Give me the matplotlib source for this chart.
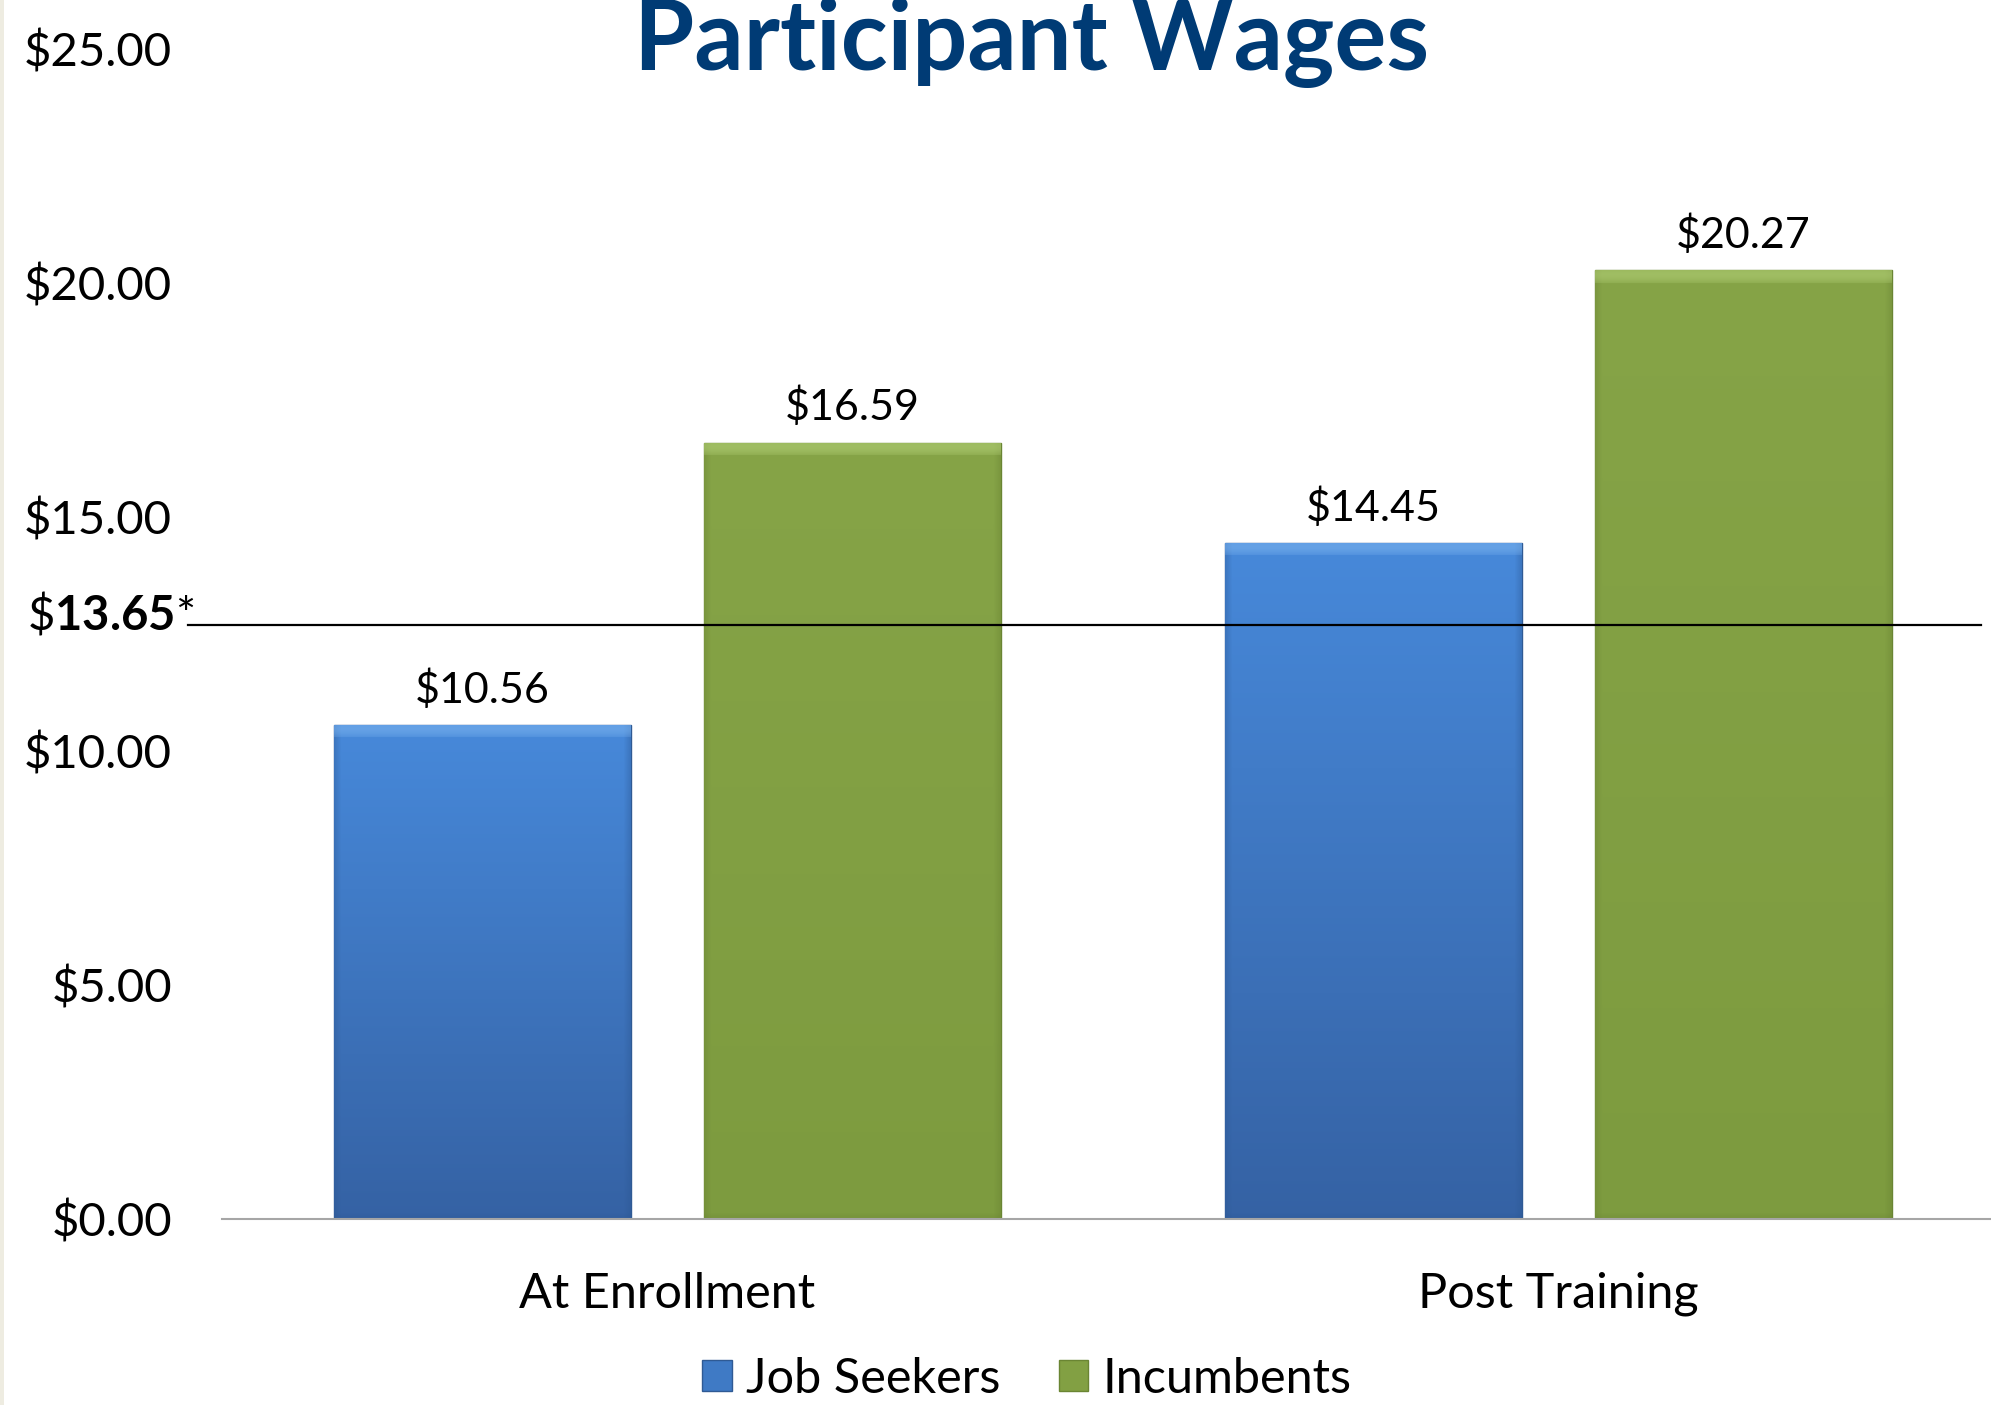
import numpy as np
import matplotlib
matplotlib.use("Agg")
import matplotlib.pyplot as plt
from matplotlib.colors import to_rgb
from matplotlib.patches import Rectangle, Patch

# ---------------- data ----------------
categories = ["At Enrollment", "Post Training"]
series_names = ["Job Seekers", "Incumbents"]
job_seekers = [10.56, 14.45]
incumbents = [16.59, 20.27]
yticks = [0, 5, 10, 15, 20, 25]
ytick_labels = ["$0.00", "$5.00", "$10.00", "$15.00", "$20.00", "$25.00"]
ref_line_value = 12.7          # position where the reference line is drawn
ref_line_label_num = "13.65"   # its label
title = "Participant Wages"

# ---------------- style ----------------
FONT = "Lato"
plt.rcParams["font.family"] = [FONT, "DejaVu Sans"]
plt.rcParams["mathtext.fontset"] = "custom"
plt.rcParams["mathtext.rm"] = FONT
plt.rcParams["mathtext.bf"] = FONT + ":bold"

W, H = 1991, 1405
fig = plt.figure(figsize=(W / 100, H / 100), dpi=100)
fig.patch.set_facecolor("white")
fig.patches.append(Rectangle((0, 0), 4 / W, 1, transform=fig.transFigure,
                             facecolor="#EEECE1", edgecolor="none"))

cat_px = 891.0
ax_left, ax_right = 222 / W, (222 + 2 * cat_px) / W
ax_bottom, ax_top = (H - 1219) / H, (H - 49) / H
ax = fig.add_axes([ax_left, ax_bottom, ax_right - ax_left, ax_top - ax_bottom])

x = np.arange(len(categories))
bw = 0.333
off = 0.2077

blue_top, blue_bot = to_rgb("#4789DA"), to_rgb("#3562A4")
green_top, green_bot = to_rgb("#86A447"), to_rgb("#7D9B3F")

b1 = ax.bar(x - off, job_seekers, bw, color="#3F7AC5", edgecolor="#2F5A94",
            linewidth=1.0, zorder=2)
b2 = ax.bar(x + off, incumbents, bw, color="#82A043", edgecolor="#6A8533",
            linewidth=1.0, zorder=2)

px_y = (1219 - 49) / 25.0
px_x = cat_px


def shade(bars, ctop, cbot, bevel_light, edge_dark):
    ctop, cbot = np.array(ctop), np.array(cbot)
    bl, ed = np.array(to_rgb(bevel_light)), np.array(to_rgb(edge_dark))
    for r in bars:
        x0, w, h = r.get_x(), r.get_width(), r.get_height()
        nr, nc = max(int(h * px_y), 2), max(int(w * px_x), 2)
        t = np.linspace(1, 0, nr)[:, None, None]
        img = cbot + (ctop - cbot) * t
        img = np.repeat(img, nc, axis=1)
        cols = np.arange(nc)
        side = np.clip(1 - np.minimum(cols, nc - 1 - cols) / 7.0, 0, 1)[None, :, None]
        img = img * (1 - 0.35 * side) + ed * 0.35 * side
        rows = np.arange(nr)
        bot = np.clip(1 - (nr - 1 - rows) / 6.0, 0, 1)[:, None, None]
        img = img * (1 - 0.3 * bot) + ed * 0.3 * bot
        # top bevel highlight (smooth)
        topb = np.clip(1 - rows / 13.0, 0, 1)[:, None, None]
        topb = np.where(rows[:, None, None] < 13, 0.35 + 0.65 * np.sin(np.pi * topb / 1.4), 0)
        img = img * (1 - 0.55 * topb) + bl * 0.55 * topb
        im = ax.imshow(np.clip(img, 0, 1), extent=(x0, x0 + w, 0, h),
                       aspect="auto", origin="upper", interpolation="bilinear",
                       zorder=2.5)
        im.set_clip_path(r)


shade(b1, blue_top, blue_bot, "#7DB5F0", "#2A5590")
shade(b2, green_top, green_bot, "#B5D27A", "#667F30")

# value labels
for bars, vals in ((b1, job_seekers), (b2, incumbents)):
    for r, v in zip(bars, vals):
        ax.annotate(f"${v:.2f}", (r.get_x() + r.get_width() / 2, r.get_height()),
                    xytext=(0, 16), textcoords="offset points",
                    ha="center", va="baseline", fontsize=31, color="black",
                    zorder=5)

ax.set_xlim(-0.5, len(categories) - 0.5)
ax.set_ylim(0, 25)
ax.set_yticks(yticks)
ax.set_yticklabels(ytick_labels, fontsize=34)
ax.set_xticks(x)
ax.set_xticklabels(categories, fontsize=35)
ax.tick_params(axis="y", length=0, pad=36)
ax.tick_params(axis="x", length=0, pad=38)
for s in ("left", "right", "top"):
    ax.spines[s].set_visible(False)
ax.spines["bottom"].set_color("#A6A6A6")
ax.spines["bottom"].set_linewidth(1.5)
ax.spines["bottom"].set_zorder(3)
ax.set_facecolor("none")

# reference line (from just right of its label to the right edge)
ax.plot([-0.5 + (188 - 222) / px_x, -0.5 + (1981 - 222) / px_x],
        [ref_line_value, ref_line_value], color="black", lw=1.6,
        clip_on=False, zorder=4)
ax.annotate(r"\$$\mathbf{" + ref_line_label_num + r"}$*", (0, ref_line_value),
            xycoords=("axes fraction", "data"), xytext=(-20, -3.5),
            textcoords="offset points", ha="right", va="baseline",
            fontsize=34, annotation_clip=False)

# title
fig.text(1032 / W, (H - 70) / H, title, ha="center", va="baseline",
         fontsize=70, fontweight="bold", color="#003B75")

# legend
handles = [Patch(facecolor="#3F7AC5", edgecolor="#2F5A94"),
           Patch(facecolor="#82A043", edgecolor="#6A8533")]
fig.legend(handles, series_names, loc="center", bbox_to_anchor=(1027 / W, 26 / H),
           ncol=2, frameon=False, fontsize=35, handlelength=0.6,
           handleheight=0.6, handletextpad=0.3, columnspacing=1.2,
           borderaxespad=0, borderpad=0)

fig.savefig("out.png", dpi=100)
